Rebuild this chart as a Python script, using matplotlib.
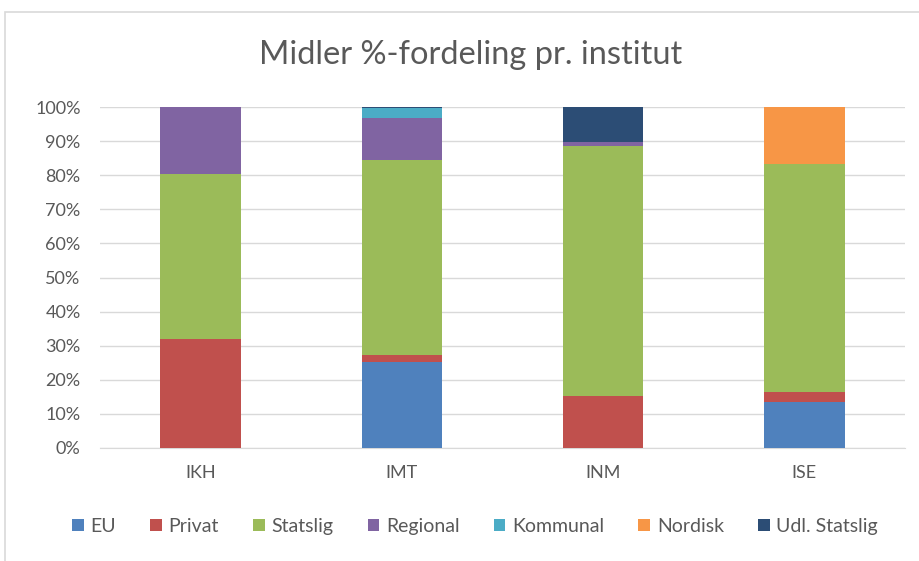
import numpy as np
import matplotlib.pyplot as plt
from matplotlib.patches import Rectangle
from matplotlib.ticker import PercentFormatter

plt.rcParams['font.family'] = ['Lato', 'DejaVu Sans']

# data (share in %)
institutter = ['IKH', 'IMT', 'INM', 'ISE']
serier = ['EU', 'Privat', 'Statslig', 'Regional', 'Kommunal', 'Nordisk', 'Udl. Statslig']
eu = [0.0, 25.3, 0.0, 13.4]
privat = [32.1, 1.9, 15.2, 3.0]
statslig = [48.3, 57.2, 73.5, 66.9]
regional = [19.6, 12.4, 1.1, 0.0]
kommunal = [0.0, 2.9, 0.0, 0.0]
nordisk = [0.0, 0.0, 0.0, 16.7]
udl_statslig = [0.0, 0.3, 10.2, 0.0]
farver = ['#4f81bd', '#c0504d', '#9bbb59', '#8064a2', '#4bacc6', '#f79646', '#2c4d75']

fig = plt.figure(figsize=(9.2, 5.61), dpi=100)
ax = fig.add_axes([100/920, 113/561, 805/920, 341/561])

#outer chart border
fig.patches.append(Rectangle((5/920, -0.01), 1.0, (549+6)/561, transform=fig.transFigure,
                             fill=False, edgecolor='#d9d9d9', linewidth=1.2))

x = np.arange(len(institutter))
bund = np.zeros(len(institutter))
for navn, vals, f in zip(serier, [eu, privat, statslig, regional, kommunal, nordisk, udl_statslig], farver):
    vals = np.array(vals)
    ax.bar(x, vals, 0.4, bottom=bund, color=f, label=navn, zorder=3)
    bund = bund + vals

ax.set_xlim(-0.5, 3.5)
ax.set_ylim(0, 100)
ax.set_yticks(np.arange(0, 101, 10))
ax.yaxis.set_major_formatter(PercentFormatter(decimals=0))
ax.set_xticks(x)
ax.set_xticklabels(institutter)
ax.grid(axis='y', color='#d9d9d9', linewidth=1, zorder=0)
for s in ['top', 'right', 'left']:
    ax.spines[s].set_visible(False)
ax.spines['bottom'].set_color('#d9d9d9')
ax.tick_params(axis='both', length=0, labelsize=13, colors='#595959')
ax.tick_params(axis='x', pad=12)
ax.tick_params(axis='y', pad=14)

fig.text(471/920, 1 - 55/561, 'Midler %-fordeling pr. institut', ha='center', va='center',
         fontsize=23.5, color='#595959')

ax.legend(loc='center', bbox_to_anchor=(0.466, -0.23), ncol=7, frameon=False,
          fontsize=14, labelcolor='#595959', handlelength=0.6, handleheight=0.6,
          handletextpad=0.35, columnspacing=1.75)

fig.savefig('out.png', dpi=100)
